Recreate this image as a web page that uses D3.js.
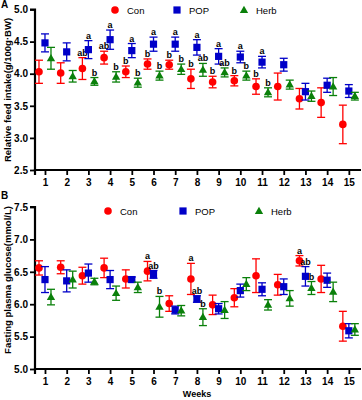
<!DOCTYPE html>
<html><head><meta charset="utf-8">
<script src="https://cdn.jsdelivr.net/npm/d3@7"></script>
<style>body{margin:0;background:#fff}svg{display:block;font-family:"Liberation Sans",Arial,sans-serif}</style>
</head><body>
<script>
const weeks = [1,2,3,4,5,6,7,8,9,10,11,12,13,14,15];
const seriesNames = ["Con","POP","Herb"];
// Panel A: relative feed intake
const conA    = [4.03,4.01,4.08,4.25,4.03,4.15,4.14,3.92,3.87,3.89,3.80,3.80,3.61,3.55,3.21];
const conAErr = [0.18,0.16,0.17,0.10,0.09,0.08,0.07,0.15,0.09,0.08,0.12,0.21,0.16,0.23,0.30];
const popA    = [4.48,4.34,4.375,4.53,4.36,4.46,4.46,4.41,4.27,4.26,4.18,4.14,3.72,3.82,3.73];
const popAErr = [0.14,0.14,0.14,0.15,0.11,0.11,0.11,0.12,0.12,0.09,0.09,0.10,0.13,0.11,0.10];
const herbA    = [4.24,3.96,3.88,3.95,3.86,3.97,4.07,4.06,4.02,3.97,3.71,3.83,3.65,3.80,3.65];
const herbAErr = [0.17,0.09,0.06,0.08,0.07,0.07,0.08,0.10,0.07,0.07,0.07,0.07,0.08,0.14,0.06];
const conLabA  = ["","","ab","ab","b","b","b","b","b","b","b","","","",""];
const popLabA  = ["","","a","a","a","a","a","a","a","a","a","","","",""];
const herbLabA = ["","","b","b","b","b","b","ab","ab","b","b","","","",""];
const ticksA = [2.5,3.0,3.5,4.0,4.5,5.0];
// Panel B: fasting plasma glucose
const conB    = [6.56,6.57,6.44,6.56,6.39,6.51,6.01,6.39,5.99,6.10,6.44,6.30,6.67,6.39,5.66];
const conBErr = [0.11,0.10,0.13,0.15,0.14,0.15,0.12,0.24,0.15,0.14,0.26,0.16,0.08,0.21,0.23];
const popB    = [6.38,6.36,6.48,6.38,6.38,6.46,5.91,6.08,5.93,6.21,6.23,6.27,6.43,6.37,5.59];
const popBErr = [0.20,0.17,0.14,0.14,0.04,0.06,0.06,0.05,0.08,0.10,0.10,0.12,0.15,0.11,0.11];
const herbB    = [6.11,6.38,6.35,6.17,6.26,5.96,5.90,5.80,5.91,6.31,5.99,6.09,6.25,6.19,5.61];
const herbBErr = [0.12,0.13,0.05,0.11,0.08,0.16,0.08,0.13,0.13,0.10,0.08,0.12,0.10,0.15,0.09];
const conLabB  = ["","","","","","a","","a","","","","","a","",""];
const popLabB  = ["","","","","","ab","","ab","","","","","ab","",""];
const herbLabB = ["","","","","","b","","b","","","","","b","",""];
const ticksB = [5.0,5.5,6.0,6.5,7.0,7.5];

const colors = {Con:"#ff0000", POP:"#0000c8", Herb:"#0a800a"};
const offsets = {Con:-6, POP:0, Herb:6};
const W = 362, H = 400;
const svg = d3.select("body").append("svg").attr("width",W).attr("height",H);

const x = d3.scaleLinear().domain([0.54,15.56]).range([35,361]);

function marker(g, name, cx, cy){
  const c = colors[name];
  if(name==="Con") g.append("circle").attr("cx",cx).attr("cy",cy).attr("r",3.8).attr("fill",c);
  else if(name==="POP") g.append("rect").attr("x",cx-3.6).attr("y",cy-3.6).attr("width",7.2).attr("height",7.2).attr("fill",c);
  else g.append("path").attr("d",d3.symbol().type(d3.symbolTriangle).size(30)()).attr("transform",`translate(${cx},${cy+0.5})`).attr("fill",c);
}

function panel(cfg){
  const y = d3.scaleLinear().domain(cfg.domain).range(cfg.range);
  const g = svg.append("g");
  const ya = d3.axisLeft(y).tickValues(cfg.ticks).tickFormat(d3.format(".1f")).tickSize(5).tickPadding(2);
  const yg = g.append("g").attr("transform","translate(35,0)").call(ya);
  const xa = d3.axisBottom(x).tickValues(weeks).tickFormat(d3.format("d")).tickSize(5).tickPadding(4);
  const xg = g.append("g").attr("transform",`translate(0,${cfg.range[0]})`).call(xa);
  [yg,xg].forEach(a=>{
    a.select(".domain").attr("stroke","#000").attr("stroke-width",2.2);
    a.selectAll(".tick line").attr("stroke","#000").attr("stroke-width",1.8);
    a.selectAll(".tick text").attr("font-size",10).attr("font-weight","bold").attr("font-family","'Liberation Sans',Arial,sans-serif").attr("fill","#000");
  });
  yg.select(".domain").attr("d",`M-5,${cfg.range[1]}H0V${cfg.range[0]}`);
  xg.select(".domain").attr("d",`M35,5V0H361`);
  cfg.series.forEach(s=>{
    const sg = g.append("g");
    const c = colors[s.name];
    weeks.forEach((w,i)=>{
      const cx = x(w)+offsets[s.name];
      const v = s.vals[i], e = s.errs[i];
      const yt = y(v+e), yb = y(v-e);
      sg.append("line").attr("x1",cx).attr("x2",cx).attr("y1",yt).attr("y2",yb).attr("stroke",c).attr("stroke-width",1.3);
      [yt,yb].forEach(yy=>sg.append("line").attr("x1",cx-4).attr("x2",cx+4).attr("y1",yy).attr("y2",yy).attr("stroke",c).attr("stroke-width",1.3));
      marker(sg, s.name, cx, y(v));
      if(s.labs[i]) sg.append("text").attr("x",cx).attr("y",yt-2).attr("text-anchor","middle")
        .attr("font-size",9).attr("font-weight","bold").attr("fill","#000").text(s.labs[i]);
    });
  });
  const lx = cfg.legendX;
  seriesNames.forEach((n,i)=>{
    marker(g, n, lx[i], cfg.legendY);
    g.append("text").attr("x",lx[i]+12).attr("y",cfg.legendY+3.5).attr("font-size",9.5).attr("fill","#000").text(n);
  });
  g.append("text").attr("transform",`translate(11,${cfg.titleY}) rotate(-90)`).attr("text-anchor","middle")
    .attr("font-size",9.5).attr("font-weight","bold").attr("fill","#000").text(cfg.title);
  g.append("text").attr("x",1).attr("y",cfg.letterY).attr("font-size",10).attr("font-weight","bold").attr("fill","#000").text(cfg.letter);
}

panel({domain:[2.5,5.0], range:[170,9.5], ticks:ticksA, title:"Relative feed intake(g/100g·BW)", titleY:90, letter:"A", letterY:8,
  legendX:[115,177,244], legendY:10,
  series:[{name:"Con",vals:conA,errs:conAErr,labs:conLabA},{name:"POP",vals:popA,errs:popAErr,labs:popLabA},{name:"Herb",vals:herbA,errs:herbAErr,labs:herbLabA}]});
panel({domain:[5.0,7.5], range:[369,207], ticks:ticksB, title:"Fasting plasma glucose(mmol/L)", titleY:280, letter:"B", letterY:199,
  legendX:[108,183,259], legendY:211,
  series:[{name:"Con",vals:conB,errs:conBErr,labs:conLabB},{name:"POP",vals:popB,errs:popBErr,labs:popLabB},{name:"Herb",vals:herbB,errs:herbBErr,labs:herbLabB}]});

svg.append("text").attr("x",197).attr("y",397).attr("text-anchor","middle").attr("font-size",9).attr("font-weight","bold").attr("fill","#000").text("Weeks");
</script>
</body></html>
